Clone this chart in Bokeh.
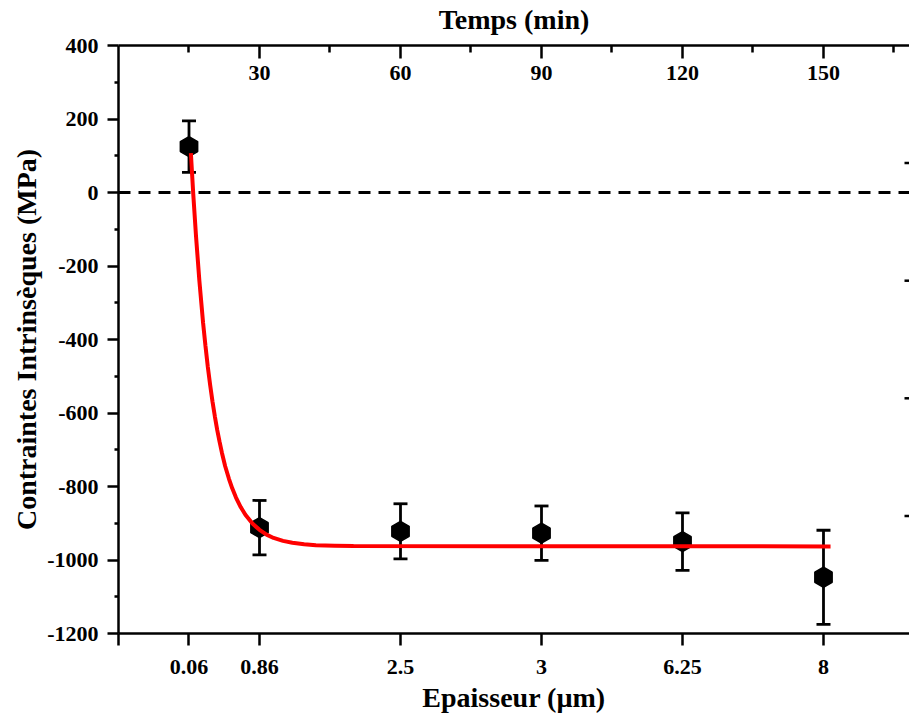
import numpy as np
from bokeh.plotting import figure
from bokeh.models import ColumnDataSource, Range1d, LinearAxis, FixedTicker, Span
from bokeh.embed import file_html
from bokeh.resources import INLINE

# ---- data ----
time_min = [15, 30, 60, 90, 120, 150]
thickness_labels = ["0.06", "0.86", "2.5", "3", "6.25", "8"]
stress_mpa = [125, -912, -922, -927, -950, -1047]
stress_err = [70, 74, 75, 74, 78, 128]

# exponential-decay fit curve
fit_time = [15.4, 15.9, 16.5, 17.2, 18.0, 18.5, 19.0, 19.5, 20.0, 20.5, 21.0, 21.5,
            22.0, 22.7, 23.5, 24.2, 25.0, 26.0, 27.0, 28.5, 30.0, 31.5, 33.0, 35.0,
            37.0, 39.5, 42.0, 46.0, 50.0, 151.5]
fit_stress = [107, -3, -120, -239, -355, -417, -474, -524, -569, -609, -646, -678,
              -708, -745, -779, -805, -830, -856, -877, -901, -918, -931, -940, -948,
              -953, -957, -960, -961, -962, -963]

y_ticks = [-1200, -1000, -800, -600, -400, -200, 0, 200, 400]
y_minor = [-1100, -900, -700, -500, -300, -100, 100, 300]
top_ticks = [30, 60, 90, 120, 150]
top_minor = [15, 45, 75, 105, 135, 165]
bottom_ticks = [0] + time_min
right_ticks = [80, -240, -560, -880]

X0, X1 = 0, 168.3
Y0, Y1 = -1200, 400

FONT = "Liberation Serif"

W, H = 909, 718
p = figure(width=W, height=H, x_range=Range1d(X0, X1), y_range=Range1d(Y0, Y1),
           output_backend="svg", toolbar_location=None,
           x_axis_location=None, y_axis_location=None,
           min_border_left=118, min_border_top=45, min_border_bottom=85, min_border_right=0)
p.outline_line_color = None
p.xgrid.visible = False
p.ygrid.visible = False
p.background_fill_color = "white"
p.border_fill_color = "white"


def style_axis(ax, fs="22px"):
    ax.axis_line_width = 2.5
    ax.axis_line_color = "black"
    ax.major_tick_line_width = 2.5
    ax.minor_tick_line_width = 2.5
    ax.major_tick_line_color = "black"
    ax.minor_tick_line_color = "black"
    ax.major_label_text_font = FONT
    ax.major_label_text_font_style = "bold"
    ax.major_label_text_font_size = fs
    ax.major_label_text_color = "black"
    ax.axis_label_text_font = FONT
    ax.axis_label_text_font_style = "bold"
    ax.axis_label_text_font_size = "28px"
    ax.axis_label_text_color = "black"


# left axis
left = LinearAxis(ticker=FixedTicker(ticks=y_ticks, minor_ticks=y_minor),
                  axis_label="Contraintes Intrinsèques (MPa)")
style_axis(left)
left.major_label_overrides = {v: str(v) for v in y_ticks}
left.major_tick_in = 0
left.major_tick_out = 11
left.minor_tick_in = 0
left.minor_tick_out = 4
left.major_label_standoff = 9
left.axis_label_standoff = 2
p.add_layout(left, "left")

# bottom axis (thickness labels at the time positions)
bottom = LinearAxis(ticker=FixedTicker(ticks=bottom_ticks, minor_ticks=[]),
                    axis_label="Epaisseur (µm)")
style_axis(bottom)
bottom.major_label_overrides = {0: ""} | {t: lab for t, lab in zip(time_min, thickness_labels)}
bottom.major_tick_in = 0
bottom.major_tick_out = 12
bottom.minor_tick_out = 0
bottom.major_label_standoff = 14
bottom.axis_label_standoff = 5
p.add_layout(bottom, "below")

# top axis (time), labels inside the frame
top = LinearAxis(ticker=FixedTicker(ticks=top_ticks, minor_ticks=top_minor),
                 axis_label="Temps (min)")
style_axis(top)
top.major_tick_in = 13
top.major_tick_out = 0
top.minor_tick_in = 7
top.minor_tick_out = 0
top.major_label_standoff = -34
top.axis_label_standoff = 28
p.add_layout(top, "above")

# zero line
zero = Span(location=0, dimension="width", line_color="black", line_width=3,
            line_dash="12 8", level="underlay")
p.add_layout(zero)

# unlabelled ticks on the right edge of the frame
p.scatter(x=[X1] * len(right_ticks), y=right_ticks, marker="dash", size=10,
          line_color="black", line_width=2.5)

src = ColumnDataSource(dict(
    t=time_min,
    s=stress_mpa,
    lo=[v - e for v, e in zip(stress_mpa, stress_err)],
    hi=[v + e for v, e in zip(stress_mpa, stress_err)],
))

p.segment(x0="t", y0="lo", x1="t", y1="hi", source=src, line_color="black", line_width=2.8)
p.scatter(x="t", y="lo", source=src, marker="dash", size=14, line_color="black", line_width=2.8)
p.scatter(x="t", y="hi", source=src, marker="dash", size=14, line_color="black", line_width=2.8)
p.scatter(x="t", y="s", source=src, marker="hex", size=20, angle=np.pi / 2,
          fill_color="black", line_color="black", line_width=1.5)

p.line(fit_time, fit_stress, line_color="red", line_width=4)

open("out.html", "w").write(file_html(p, INLINE))
